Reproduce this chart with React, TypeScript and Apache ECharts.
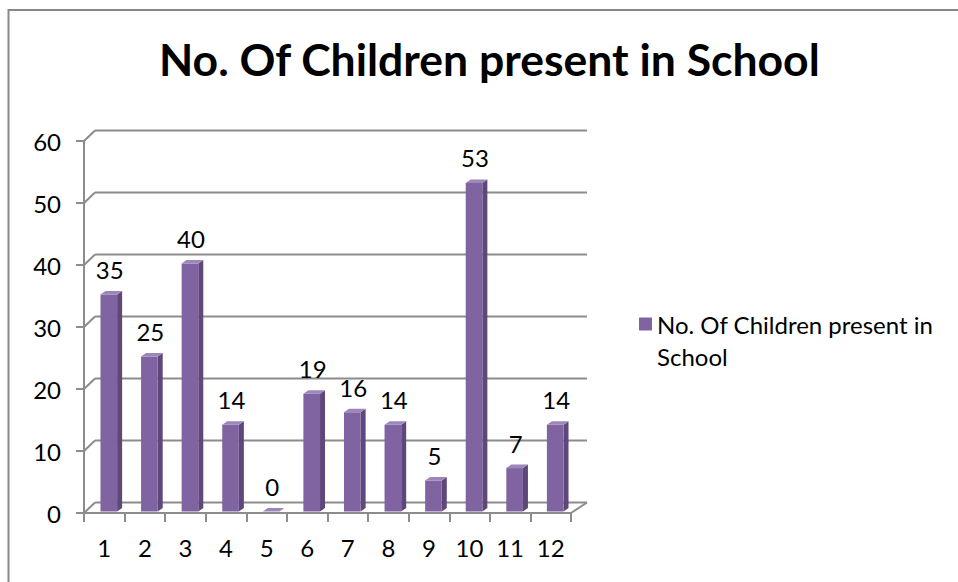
import React, { useEffect, useRef } from "react";
import * as echarts from "echarts";

// Data
const TITLE = "No. Of Children present in School";
const SERIES_NAME = "No. Of Children present in School";
const CATEGORIES = ["1", "2", "3", "4", "5", "6", "7", "8", "9", "10", "11", "12"];
const VALUES = [35, 25, 40, 14, 0, 19, 16, 14, 5, 53, 7, 14];
const Y_TICKS = [0, 10, 20, 30, 40, 50, 60];

// Styling
const FONT = "Lato, 'Open Sans', sans-serif";
const LINE_GRAY = "#8c8c8c";
const BAR_FRONT = "#8064a2";
const BAR_SIDE = "#5d4879";
const BAR_TOP = "#9c86ba";
const LABEL_SIZE = 24;

// Pseudo-3D depth of the back wall and of each column
const WALL_DX_LEFT = 11;
const WALL_DX_RIGHT = 16;
const WALL_DY = -10.5;
const BAR_SHIFT_X = 4.5;
const BAR_SHIFT_Y = -1.5;
const BAR_DEPTH_X = 5;
const BAR_DEPTH_Y = 3.5;
const BAR_RATIO = 0.41;

export default function App() {
  const ref = useRef<HTMLDivElement>(null);

  useEffect(() => {
    if (!ref.current) return;
    const chart = echarts.init(ref.current, undefined, { renderer: "svg" });

    const wallItem = (params: any, api: any) => {
      const cs = params.coordSys;
      const v = api.value(0);
      const y = api.coord([0, v])[1];
      const x0 = cs.x;
      const x1 = cs.x + cs.width;
      const style = { stroke: LINE_GRAY, lineWidth: 2 };
      const children: any[] = [
        {
          type: "line",
          shape: { x1: x0, y1: y, x2: x0 + WALL_DX_LEFT, y2: y + WALL_DY },
          style,
        },
        {
          type: "line",
          shape: { x1: x0 + WALL_DX_LEFT, y1: y + WALL_DY, x2: x1 + WALL_DX_RIGHT, y2: y + WALL_DY },
          style,
        },
      ];
      if (v === 0) {
        children.push({
          type: "line",
          shape: { x1: x1, y1: y, x2: x1 + WALL_DX_RIGHT, y2: y + WALL_DY },
          style,
        });
      }
      return { type: "group", children };
    };

    const barItem = (params: any, api: any) => {
      const idx = api.value(0);
      const val = api.value(1);
      const base = api.coord([idx, 0]);
      const top = api.coord([idx, val]);
      const bandW = api.size([1, 0])[0];
      const half = (bandW * BAR_RATIO) / 2;
      const cx = base[0] + BAR_SHIFT_X;
      const bottomY = base[1] + BAR_SHIFT_Y;
      const topY = top[1] + BAR_SHIFT_Y;
      const h = bottomY - topY;
      const l = cx - half;
      const r = cx + half;
      return {
        type: "group",
        children: [
          {
            type: "polygon",
            shape: {
              points: [
                [r, topY],
                [r + BAR_DEPTH_X, topY - BAR_DEPTH_Y],
                [r + BAR_DEPTH_X, bottomY - BAR_DEPTH_Y],
                [r, bottomY],
              ],
            },
            style: { fill: BAR_SIDE },
          },
          {
            type: "rect",
            shape: { x: l, y: topY, width: r - l, height: h },
            style: { fill: BAR_FRONT },
          },
          {
            type: "polygon",
            shape: {
              points: [
                [l, topY],
                [l + BAR_DEPTH_X, topY - BAR_DEPTH_Y],
                [r + BAR_DEPTH_X, topY - BAR_DEPTH_Y],
                [r, topY],
              ],
            },
            style: { fill: BAR_TOP },
          },
          {
            type: "text",
            x: cx + 1,
            y: topY - 25,
            style: {
              text: String(val),
              align: "center",
              verticalAlign: "middle",
              fontFamily: FONT,
              fontSize: LABEL_SIZE,
              fill: "#000",
            },
          },
        ],
      };
    };

    chart.setOption({
      animation: false,
      backgroundColor: "#ffffff",
      title: {
        text: TITLE,
        left: 159,
        top: 36,
        padding: 0,
        textStyle: { fontFamily: FONT, fontSize: 44.5, fontWeight: "bold", color: "#000" },
      },
      legend: {
        left: 639,
        top: 276,
        padding: 0,
        itemWidth: 13,
        itemHeight: 13,
        data: [{ name: SERIES_NAME, icon: "rect", itemStyle: { color: BAR_FRONT } }],
        // leading empty line keeps the first text line level with the swatch
        formatter: () => "\nNo. Of Children present in\nSchool",
        textStyle: {
          fontFamily: FONT,
          fontSize: LABEL_SIZE,
          color: "#000",
          lineHeight: 32,
        },
      },
      grid: { left: 84, top: 141, width: 487, height: 372 },
      xAxis: {
        type: "category",
        data: CATEGORIES,
        z: 5,
        axisLine: { show: true, lineStyle: { color: LINE_GRAY, width: 2 } },
        axisTick: { show: true, length: 9, lineStyle: { color: LINE_GRAY, width: 2 } },
        axisLabel: { fontFamily: FONT, fontSize: LABEL_SIZE, color: "#000", margin: 22 },
        splitLine: { show: false },
      },
      yAxis: {
        type: "value",
        min: 0,
        max: 60,
        interval: 10,
        z: 5,
        axisLine: { show: true, lineStyle: { color: LINE_GRAY, width: 2 } },
        axisTick: { show: true, length: 8, lineStyle: { color: LINE_GRAY, width: 2 } },
        axisLabel: { fontFamily: FONT, fontSize: LABEL_SIZE, color: "#000", margin: 23 },
        splitLine: { show: false },
      },
      graphic: [
        {
          type: "rect",
          shape: { x: 8.5, y: 10, width: 1000, height: 1000 },
          style: { fill: "none", stroke: "#888888", lineWidth: 2 },
          silent: true,
        },
      ],
      series: [
        {
          name: "wall",
          type: "custom",
          silent: true,
          z: 1,
          renderItem: wallItem,
          data: Y_TICKS.map((t) => [t]),
          encode: { y: 0 },
        },
        {
          name: SERIES_NAME,
          type: "custom",
          z: 3,
          itemStyle: { color: BAR_FRONT },
          renderItem: barItem,
          data: VALUES.map((v, i) => [i, v]),
          encode: { x: 0, y: 1 },
        },
      ],
    });

    return () => chart.dispose();
  }, []);

  return (
    <div
      ref={ref}
      style={{ position: "absolute", left: 0, top: 0, width: 958, height: 582 }}
    />
  );
}
